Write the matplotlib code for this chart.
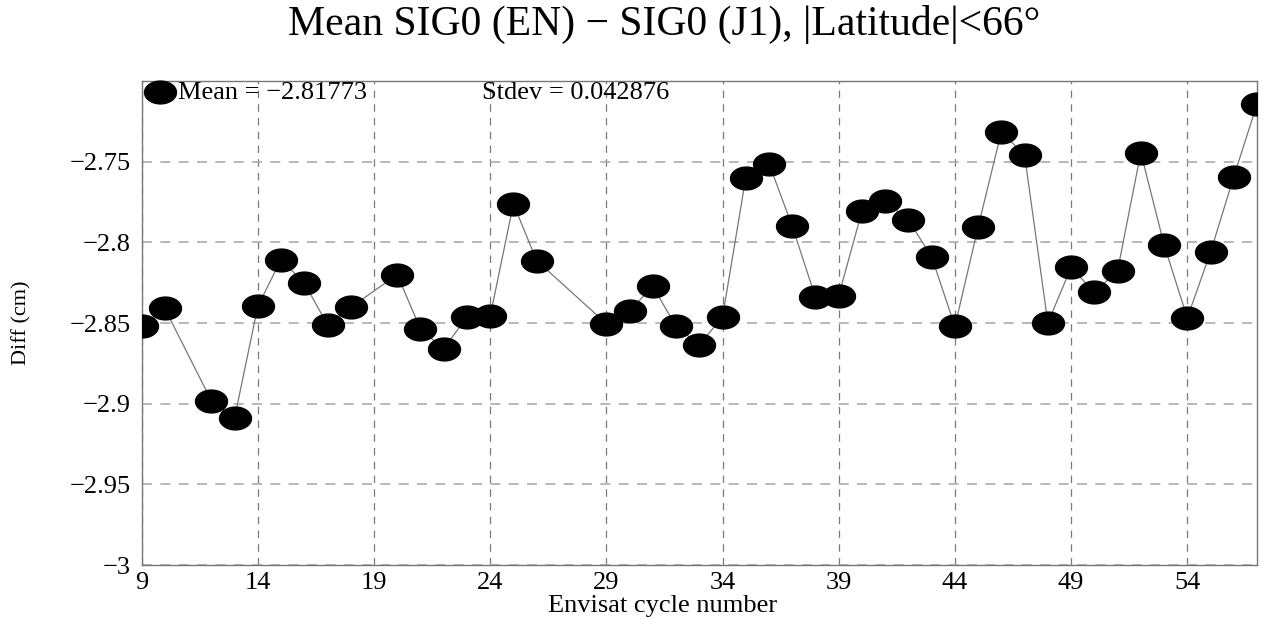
import matplotlib
matplotlib.use("Agg")
import matplotlib.pyplot as plt
import numpy as np
from matplotlib.path import Path

cycles = [9, 10, 12, 13, 14, 15, 16, 17, 18, 20, 21, 22, 23, 24, 25, 26,
          29, 30, 31, 32, 33, 34, 35, 36, 37, 38, 39, 40, 41, 42, 43, 44,
          45, 46, 47, 48, 49, 50, 51, 52, 53, 54, 55, 56, 57]
diff = [-2.8521, -2.8410, -2.8981, -2.9090, -2.8397, -2.8107, -2.8252, -2.8511,
        -2.8403, -2.8200, -2.8537, -2.8660, -2.8463, -2.8459, -2.7761, -2.8113,
        -2.8504, -2.8424, -2.8273, -2.8521, -2.8635, -2.8463, -2.7599, -2.7512,
        -2.7900, -2.8341, -2.8330, -2.7807, -2.7745, -2.7863, -2.8090, -2.8521,
        -2.7904, -2.7314, -2.7461, -2.8500, -2.8155, -2.8310, -2.8175, -2.7444,
        -2.8014, -2.8469, -2.8061, -2.7593, -2.7144]
xticks = [9, 14, 19, 24, 29, 34, 39, 44, 49, 54]
yticks = [-3, -2.95, -2.9, -2.85, -2.8, -2.75]
ytick_labels = ["\u22123", "\u22122.95", "\u22122.9", "\u22122.85", "\u22122.8", "\u22122.75"]
mean_text = "Mean = \u22122.81773"
stdev_text = "Stdev = 0.042876"
title_text = "Mean SIG0 (EN) \u2212 SIG0 (J1), |Latitude|<66\u00b0"

plt.rcParams['font.family'] = ['Liberation Serif', 'DejaVu Serif']

W, H = 1263, 619

# ellipse marker
t = np.linspace(0, 2 * np.pi, 64)
verts = np.column_stack([1.4 * np.cos(t), np.sin(t)])
ellipse = Path(verts, closed=True)

fig = plt.figure(figsize=(W / 100, H / 100), dpi=100)
ax = fig.add_axes([141.6 / W, 1 - 565 / H, (1257 - 141.6) / W, (565 - 81) / H])

ax.plot(cycles, diff, color='#777777', lw=0.9, zorder=2)
ax.plot(cycles, diff, linestyle='none', marker=ellipse, markersize=23,
        markerfacecolor='black', markeredgecolor='black', zorder=3)

ax.set_xlim(9, 57)
ax.set_ylim(-3, -2.70)
ax.set_xticks(xticks)
ax.set_xticklabels([str(v) for v in xticks], fontsize=19)
ax.set_yticks(yticks)
ax.set_yticklabels(ytick_labels, fontsize=19)
ax.tick_params(axis='y', length=0, pad=8)
ax.tick_params(axis='x', length=0, pad=5)

ax.xaxis.grid(True, linestyle=(0, (6, 5)), color='#7a7a7a', lw=0.9)
ax.yaxis.grid(True, linestyle=(0, (6, 5)), color='#acacac', lw=1.2)
ax.set_axisbelow(True)
for s in ax.spines.values():
    s.set_color('#777777')
    s.set_linewidth(1.0)

fig.text(663 / W, 1 - 606 / H, "Envisat cycle number", fontsize=19,
         ha='center', va='center')
fig.text(22 / W, 1 - 323 / H, "Diff (cm)", fontsize=16, rotation=90,
         ha='center', va='center')
fig.text(664 / W, 1 - 35 / H, title_text, fontsize=30, ha='center', va='baseline')

# legend-like annotation
fig.lines.append(plt.Line2D([160 / W], [1 - 91.5 / H], transform=fig.transFigure,
                            marker=ellipse, markersize=23, color='black', linestyle='none'))
fig.text(178 / W, 1 - 93 / H, mean_text, fontsize=19, va='center', ha='left')
fig.text(482 / W, 1 - 93 / H, stdev_text, fontsize=19, va='center', ha='left')

fig.savefig("out.png", dpi=100)
